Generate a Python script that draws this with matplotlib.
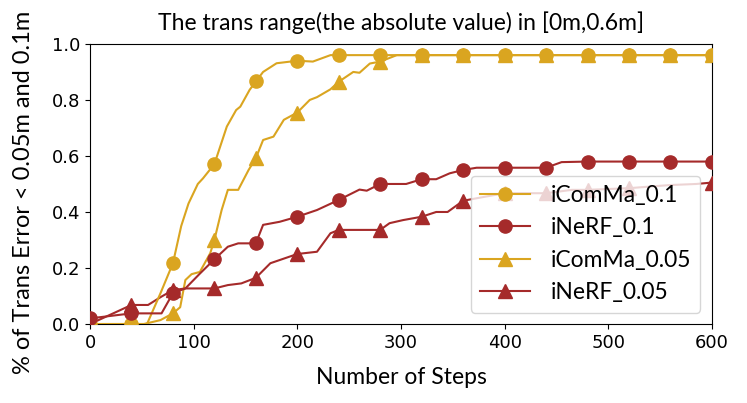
import numpy as np
import matplotlib
matplotlib.use('Agg')
import matplotlib.pyplot as plt

# curves (steps, fraction); markers sit every 40 steps
icomma01_x = [0, 40, 55, 68, 80, 88, 95, 104, 109, 120, 132, 141, 145, 154, 160, 167, 180, 200, 215, 232,
              240, 280, 320, 360, 400, 440, 480, 520, 560, 600]
icomma01_y = [0, 0, 0, 0.11, 0.217, 0.35, 0.43, 0.50, 0.52, 0.571, 0.705, 0.764, 0.776, 0.836, 0.866, 0.90, 0.931, 0.94, 0.937, 0.96,
              0.96, 0.96, 0.96, 0.96, 0.96, 0.96, 0.96, 0.96, 0.96, 0.96]

inerf01_x = [0, 40, 69, 80, 92, 106, 120, 133, 143, 160, 167, 183, 200, 219, 240, 260, 267, 280, 305, 320, 334, 347,
             360, 373, 400, 440, 455, 480, 520, 560, 600]
inerf01_y = [0.02, 0.038, 0.038, 0.11, 0.127, 0.18, 0.231, 0.276, 0.288, 0.288, 0.354, 0.365, 0.383, 0.407, 0.443, 0.48, 0.476, 0.50, 0.50, 0.517, 0.517, 0.538,
             0.55, 0.558, 0.558, 0.558, 0.578, 0.58, 0.58, 0.58, 0.58]

icomma005_x = [0, 40, 52, 68, 80, 87, 92, 98, 106, 116, 120, 127, 133, 143, 153, 160, 167, 177, 187, 200, 212, 219, 232,
               240, 254, 260, 270, 280, 296, 320, 360, 400, 440, 480, 520, 560, 600]
icomma005_y = [0, 0, 0, 0.014, 0.038, 0.06, 0.157, 0.178, 0.186, 0.253, 0.30, 0.407, 0.479, 0.479, 0.55, 0.592, 0.657, 0.669, 0.729, 0.755, 0.80, 0.81, 0.838,
               0.865, 0.90, 0.897, 0.93, 0.937, 0.96, 0.96, 0.96, 0.96, 0.96, 0.96, 0.96, 0.96, 0.96]

inerf005_x = [0, 40, 56, 69, 80, 92, 120, 133, 146, 160, 174, 200, 219, 232, 240, 280, 289, 302, 320, 334, 345,
              360, 373, 400, 440, 465, 480, 520, 559, 585, 600]
inerf005_y = [0, 0.068, 0.068, 0.098, 0.121, 0.127, 0.127, 0.139, 0.145, 0.165, 0.217, 0.25, 0.258, 0.324, 0.336, 0.336, 0.36, 0.371, 0.383, 0.40, 0.40,
              0.44, 0.449, 0.467, 0.467, 0.479, 0.479, 0.485, 0.496, 0.50, 0.505]

marker_steps = np.arange(0, 601, 40)

gold = '#DAA520'
red = '#A52A2A'
txt_font = ['Lato', 'DejaVu Sans']

fig = plt.figure(figsize=(7.47, 4.03), dpi=100)
ax = fig.add_axes([0.1205, 0.196, 0.8325, 0.695])

series = [
    (icomma01_x, icomma01_y, gold, 'o', 'iComMa_0.1', 4),
    (inerf01_x, inerf01_y, red, 'o', 'iNeRF_0.1', 5),
    (icomma005_x, icomma005_y, gold, '^', 'iComMa_0.05', 2),
    (inerf005_x, inerf005_y, red, '^', 'iNeRF_0.05', 3),
]
for xs, ys, c, m, lab, z in series:
    xs = np.array(xs)
    idx = list(np.where(np.isin(xs, marker_steps))[0])
    ax.plot(xs, ys, color=c, marker=m, markevery=idx, markersize=9.5,
            linewidth=1.5, label=lab, zorder=z)

ax.set_xlim(0, 600)
ax.set_ylim(0, 1.0)
ax.set_xticks(np.arange(0, 601, 100))
ax.set_yticks(np.arange(0, 1.01, 0.2))
ax.tick_params(labelsize=13)

ax.set_title('The trans range(the absolute value) in [0m,0.6m]', family=txt_font, fontsize=16.5, pad=10)
ax.set_xlabel('Number of Steps', family=txt_font, fontsize=16.5, labelpad=11)
ax.set_ylabel('% of Trans Error < 0.05m and 0.1m', family=txt_font, fontsize=17)
ax.yaxis.set_label_coords(-0.09, 0.47)

leg = ax.legend(loc='lower right', prop={'family': txt_font, 'size': 16.5},
                handlelength=2.2, handletextpad=0.9)
leg.set_zorder(10)

fig.savefig('out.png', dpi=100)
